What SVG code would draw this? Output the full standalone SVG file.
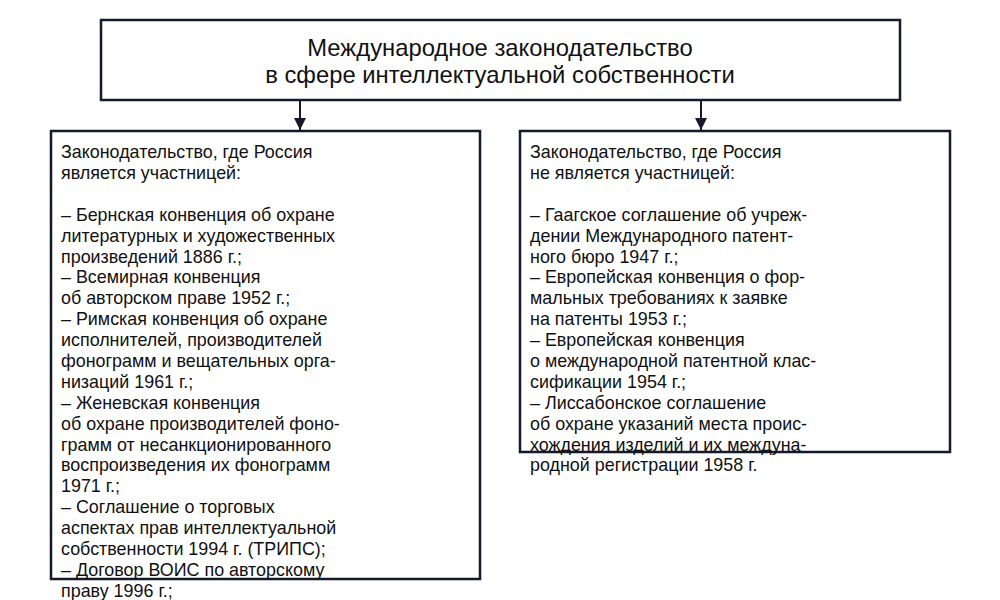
<svg xmlns="http://www.w3.org/2000/svg" width="1000" height="600" viewBox="0 0 1000 600">
<style>
.b{fill:#fff;stroke:#141a2b;stroke-width:2.5}
.t{font-family:"Liberation Sans",Arial,sans-serif;font-size:17.9px;fill:#111}
.h{font-family:"Liberation Sans",Arial,sans-serif;font-size:23.8px;fill:#111;text-anchor:middle}
.c{stroke:#141a2b;stroke-width:2;fill:none}
</style>
<defs>
<marker id="d" viewBox="0 0 10 10" markerWidth="12" markerHeight="12" refX="10" refY="5" orient="auto" markerUnits="userSpaceOnUse"><path d="M0,0 L10,5 L0,10 Z" fill="#141a2b"/></marker></defs>
<g id="top"><rect class="b" x="101" y="20" width="799" height="80"/>
<text class="h" x="500" y="56">Международное законодательство</text>
<text class="h" x="500" y="83">в сфере интеллектуальной собственности</text></g>
<g id="connectors">
<path class="c" d="M300,100 V130" marker-end="url(#d)"/>
<path class="c" d="M701,100 V130" marker-end="url(#d)"/>
</g>
<g id="left"><rect class="b" x="51" y="131" width="429" height="448"/>
<text class="t" x="61" y="158">
<tspan x="61" dy="0">Законодательство, где Россия</tspan>
<tspan x="61" dy="20.9">является участницей:</tspan>
<tspan x="61" dy="41.8">– Бернская конвенция об охране</tspan>
<tspan x="61" dy="20.9">литературных и художественных</tspan>
<tspan x="61" dy="20.9">произведений 1886 г.;</tspan>
<tspan x="61" dy="20.9">– Всемирная конвенция</tspan>
<tspan x="61" dy="20.9">об авторском праве 1952 г.;</tspan>
<tspan x="61" dy="20.9">– Римская конвенция об охране</tspan>
<tspan x="61" dy="20.9">исполнителей, производителей</tspan>
<tspan x="61" dy="20.9">фонограмм и вещательных орга-</tspan>
<tspan x="61" dy="20.9">низаций 1961 г.;</tspan>
<tspan x="61" dy="20.9">– Женевская конвенция</tspan>
<tspan x="61" dy="20.9">об охране производителей фоно-</tspan>
<tspan x="61" dy="20.9">грамм от несанкционированного</tspan>
<tspan x="61" dy="20.9">воспроизведения их фонограмм</tspan>
<tspan x="61" dy="20.9">1971 г.;</tspan>
<tspan x="61" dy="20.9">– Соглашение о торговых</tspan>
<tspan x="61" dy="20.9">аспектах прав интеллектуальной</tspan>
<tspan x="61" dy="20.9">собственности 1994 г. (ТРИПС);</tspan>
<tspan x="61" dy="20.9">– Договор ВОИС по авторскому</tspan>
<tspan x="61" dy="20.9">праву 1996 г.;</tspan>
</text></g>
<g id="right"><rect class="b" x="520" y="131" width="430" height="321"/>
<text class="t" x="530" y="158">
<tspan x="530" dy="0">Законодательство, где Россия</tspan>
<tspan x="530" dy="20.9">не является участницей:</tspan>
<tspan x="530" dy="41.8">– Гаагское соглашение об учреж-</tspan>
<tspan x="530" dy="20.9">дении Международного патент-</tspan>
<tspan x="530" dy="20.9">ного бюро 1947 г.;</tspan>
<tspan x="530" dy="20.9">– Европейская конвенция о фор-</tspan>
<tspan x="530" dy="20.9">мальных требованиях к заявке</tspan>
<tspan x="530" dy="20.9">на патенты 1953 г.;</tspan>
<tspan x="530" dy="20.9">– Европейская конвенция</tspan>
<tspan x="530" dy="20.9">о международной патентной клас-</tspan>
<tspan x="530" dy="20.9">сификации 1954 г.;</tspan>
<tspan x="530" dy="20.9">– Лиссабонское соглашение</tspan>
<tspan x="530" dy="20.9">об охране указаний места проис-</tspan>
<tspan x="530" dy="20.9">хождения изделий и их междуна-</tspan>
<tspan x="530" dy="20.9">родной регистрации 1958 г.</tspan>
</text></g>
</svg>
